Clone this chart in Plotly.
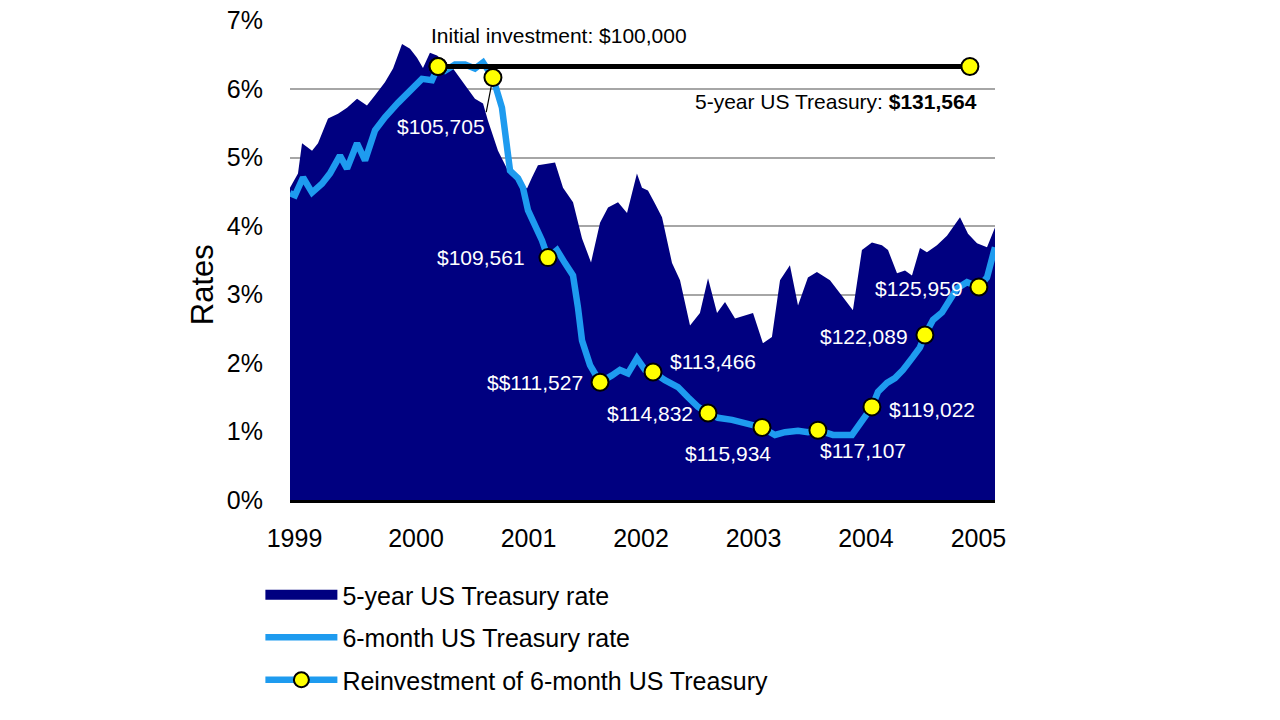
import plotly.graph_objects as go

# ---------------- data ----------------
t5_years = [1998.880, 1998.951, 1998.987, 1999.076, 1999.129, 1999.218, 1999.307, 1999.387,
            1999.476, 1999.564, 1999.636, 1999.724, 1999.796, 1999.876, 1999.947, 2000.009,
            2000.062, 2000.124, 2000.187, 2000.329, 2000.453, 2000.524, 2000.596, 2000.640,
            2000.729, 2000.818, 2000.898, 2000.987, 2001.031, 2001.084, 2001.236, 2001.307,
            2001.396, 2001.476, 2001.556, 2001.636, 2001.707, 2001.796, 2001.876, 2001.964,
            2002.009, 2002.062, 2002.124, 2002.187, 2002.276, 2002.347, 2002.436, 2002.524,
            2002.596, 2002.676, 2002.747, 2002.836, 2002.996, 2003.084, 2003.164, 2003.236,
            2003.324, 2003.396, 2003.484, 2003.564, 2003.680, 2003.796, 2003.884, 2003.964,
            2004.053, 2004.142, 2004.196, 2004.276, 2004.347, 2004.409, 2004.480, 2004.542,
            2004.631, 2004.720, 2004.836, 2004.907, 2004.987, 2005.076, 2005.147]
t5_rates = [4.56, 4.77, 5.21, 5.10, 5.21, 5.57, 5.64, 5.73,
            5.86, 5.76, 5.91, 6.10, 6.30, 6.66, 6.59, 6.46,
            6.31, 6.53, 6.49, 6.30, 6.02, 5.86, 5.79, 5.54,
            5.10, 4.81, 4.70, 4.55, 4.71, 4.89, 4.93, 4.56,
            4.35, 3.82, 3.47, 4.05, 4.27, 4.35, 4.19, 4.77,
            4.56, 4.52, 4.33, 4.13, 3.46, 3.21, 2.55, 2.73,
            3.24, 2.73, 2.89, 2.65, 2.73, 2.29, 2.38, 3.21,
            3.43, 2.84, 3.25, 3.33, 3.21, 2.96, 2.77, 3.65,
            3.76, 3.72, 3.65, 3.31, 3.35, 3.28, 3.68, 3.62,
            3.72, 3.86, 4.13, 3.89, 3.75, 3.69, 3.98]

m6_years = [1998.880, 1998.924, 1998.996, 1999.076, 1999.164, 1999.236, 1999.324, 1999.387,
            1999.476, 1999.547, 1999.636, 1999.724, 1999.840, 1999.964, 2000.053, 2000.142,
            2000.196, 2000.258, 2000.347, 2000.436, 2000.524, 2000.596, 2000.684, 2000.764,
            2000.809, 2000.836, 2000.907, 2000.951, 2000.996, 2001.058, 2001.120, 2001.173,
            2001.253, 2001.324, 2001.396, 2001.440, 2001.476, 2001.547, 2001.636, 2001.742,
            2001.813, 2001.884, 2001.964, 2002.036, 2002.107, 2002.213, 2002.329, 2002.418,
            2002.507, 2002.596, 2002.684, 2002.809, 2002.951, 2003.076, 2003.191, 2003.280,
            2003.396, 2003.484, 2003.573, 2003.707, 2003.876, 2003.964, 2004.053, 2004.107,
            2004.187, 2004.258, 2004.329, 2004.418, 2004.480, 2004.524, 2004.596, 2004.676,
            2004.747, 2004.809, 2004.898, 2005.004, 2005.076, 2005.147]
m6_rates = [4.48, 4.45, 4.71, 4.49, 4.62, 4.77, 5.03, 4.84,
            5.21, 4.96, 5.40, 5.59, 5.80, 6.02, 6.15, 6.13,
            6.33, 6.27, 6.36, 6.36, 6.30, 6.39, 6.17, 5.73,
            5.25, 4.81, 4.70, 4.56, 4.23, 4.01, 3.79, 3.54,
            3.65, 3.46, 3.28, 2.81, 2.33, 1.97, 1.72, 1.82,
            1.90, 1.85, 2.07, 1.90, 1.87, 1.75, 1.65, 1.50,
            1.36, 1.27, 1.20, 1.17, 1.12, 1.06, 0.95, 0.99,
            1.01, 0.99, 1.02, 0.95, 0.95, 1.14, 1.36, 1.58,
            1.71, 1.78, 1.90, 2.09, 2.23, 2.41, 2.63, 2.74,
            2.92, 3.09, 3.18, 3.11, 3.25, 3.69]

reinv_years = [2000.196, 2000.684, 2001.173, 2001.636, 2002.107, 2002.596,
               2003.076, 2003.573, 2004.053, 2004.524, 2005.004]
reinv_rates = [6.33, 6.17, 3.54, 1.72, 1.87, 1.27, 1.06, 1.02, 1.36, 2.41, 3.11]
reinv_labels = ["", "$105,705", "$109,561", "$$111,527", "$113,466", "$114,832",
                "$115,934", "$117,107", "$119,022", "$122,089", "$125,959"]

invest_years = [2000.196, 2004.924]
invest_rates = [6.33, 6.33]
initial_text = "Initial investment: $100,000"
final_text = "5-year US Treasury: <b>$131,564</b>"

year_ticks = [1998.92, 2000, 2001, 2002, 2003, 2004, 2005]
year_labels = ["1999", "2000", "2001", "2002", "2003", "2004", "2005"]
rate_ticks = [0, 1, 2, 3, 4, 5, 6, 7]
rate_labels = ["0%", "1%", "2%", "3%", "4%", "5%", "6%", "7%"]

# label placement (xanchor, xshift, yshift) in pixels
label_pos = [None, ("right", -6, -49), ("right", -21, 0), ("right", -15, 0),
             ("left", 15, 10), ("right", -13, 0), ("center", -34, -26),
             ("left", 0, -20), ("left", 15, -3), ("right", -15, -2), ("right", -14, -1)]

# ---------------- styles ----------------
NAVY = "#000080"
BLUE = "#1E9BEF"
YELLOW = "#FFFF00"
FONT = "Liberation Sans, Arial, sans-serif"

fig = go.Figure()

fig.add_trace(go.Scatter(
    x=t5_years, y=t5_rates, name="5-year US Treasury rate", mode="none",
    fill="tozeroy", fillcolor=NAVY, showlegend=False, hoverinfo="skip"))

# legend-only entry for the area series
fig.add_trace(go.Scatter(
    x=[None], y=[None], name="5-year US Treasury rate", mode="lines",
    line=dict(color=NAVY, width=18), legendgroup="a"))

fig.add_trace(go.Scatter(
    x=m6_years, y=m6_rates, name="6-month US Treasury rate", mode="lines",
    line=dict(color=BLUE, width=6.5), legendgroup="b"))

fig.add_trace(go.Scatter(
    x=invest_years, y=invest_rates, mode="lines+markers", showlegend=False,
    line=dict(color="black", width=5),
    marker=dict(size=17, color=YELLOW, line=dict(color="black", width=2))))

fig.add_trace(go.Scatter(
    x=reinv_years, y=reinv_rates, mode="markers", showlegend=False,
    marker=dict(size=17, color=YELLOW, line=dict(color="black", width=2))))

# legend-only entry
fig.add_trace(go.Scatter(
    x=[None], y=[None], name="Reinvestment of 6-month US Treasury", mode="lines+markers",
    line=dict(color=BLUE, width=6.5),
    marker=dict(size=15, color=YELLOW, line=dict(color="black", width=2)),
    legendgroup="c"))

annotations = []
for xv, yv, lab, pos in zip(reinv_years, reinv_rates, reinv_labels, label_pos):
    if not lab:
        continue
    anchor, dx, dy = pos
    annotations.append(dict(x=xv, y=yv, text=lab, showarrow=False, xanchor=anchor,
                            yanchor="middle", xshift=dx, yshift=dy,
                            font=dict(family=FONT, size=21, color="white")))

# leader line for the first reinvestment label
annotations.append(dict(x=reinv_years[1], y=reinv_rates[1], text="", showarrow=True,
                        ax=-7, ay=36, arrowhead=0, arrowwidth=1.2, arrowcolor="black",
                        standoff=8))

annotations.append(dict(x=invest_years[0], y=invest_rates[0], text=initial_text,
                        showarrow=False, xanchor="left", yanchor="middle",
                        xshift=-9, yshift=31, font=dict(family=FONT, size=21, color="black")))
annotations.append(dict(x=invest_years[1], y=invest_rates[1], text=final_text,
                        showarrow=False, xanchor="right", yanchor="middle",
                        xshift=9, yshift=-35, font=dict(family=FONT, size=21, color="black")))
annotations.append(dict(xref="paper", yref="paper", x=-0.123, y=0.448, text="Rates",
                        textangle=-90, showarrow=False, xanchor="center", yanchor="middle",
                        font=dict(family=FONT, size=31, color="black")))

fig.update_layout(
    width=1280, height=720,
    margin=dict(l=290, r=285, t=20, b=220, autoexpand=False),
    paper_bgcolor="white", plot_bgcolor="white",
    showlegend=True,
    legend=dict(x=-0.042, y=-0.15, xanchor="left", yanchor="top",
                font=dict(family=FONT, size=25, color="black"),
                itemwidth=72, tracegroupgap=7, bgcolor="rgba(0,0,0,0)"),
    annotations=annotations,
    font=dict(family=FONT),
)

fig.update_xaxes(range=[1998.88, 2005.147], tickvals=year_ticks, ticktext=year_labels,
                 showgrid=False, zeroline=False, showline=True, linecolor="black",
                 linewidth=3, ticks="", ticklabelstandoff=14,
                 tickfont=dict(family=FONT, size=25, color="black"))
fig.update_yaxes(range=[0, 7.01], tickvals=rate_ticks, ticktext=rate_labels,
                 showgrid=True, gridcolor="#A6A6A6", gridwidth=2, zeroline=False,
                 showline=False, ticks="", ticklabelstandoff=26, ticklabeloverflow="allow",
                 tickfont=dict(family=FONT, size=25, color="black"))

# remove the browser's default 8px page margin so the figure fills the window
fig.write_html("out.html", config={"displayModeBar": False},
               post_script="document.body.style.margin='0';document.body.style.overflow='hidden';")
